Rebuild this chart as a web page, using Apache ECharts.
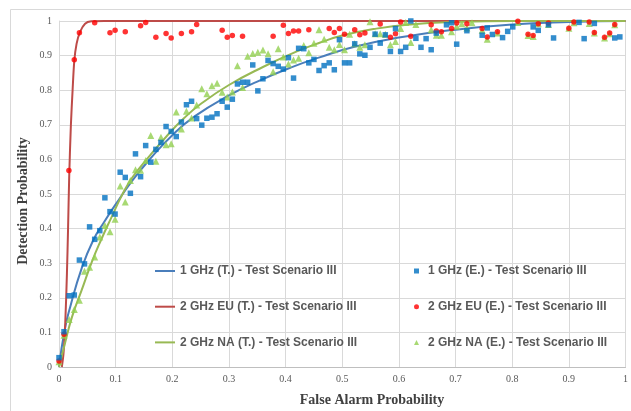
<!DOCTYPE html>
<html>
<head>
<meta charset="utf-8">
<script src="https://cdn.jsdelivr.net/npm/echarts@6/dist/echarts.min.js"></script>
<style>html,body{margin:0;padding:0;background:#fff}#c{width:631px;height:411px}</style>
</head>
<body>
<div id="c"></div>
<script>
// Theoretical curves [Pfa, Pd]
const blueT = [[0,0],[0.01,0.107],[0.02,0.175],[0.04,0.285],[0.06,0.365],[0.08,0.42],[0.1,0.47],[0.13,0.54],[0.16,0.6],[0.2,0.67],[0.24,0.725],[0.3,0.785],[0.35,0.825],[0.41,0.866],[0.46,0.895],[0.52,0.925],[0.6,0.952],[0.7,0.975],[0.8,0.99],[0.9,0.997],[1,1]];
const redT = [[0.005,0],[0.008,0.04],[0.011,0.126],[0.014,0.27],[0.016,0.4],[0.018,0.55],[0.021,0.7],[0.024,0.8],[0.027,0.885],[0.031,0.934],[0.037,0.968],[0.046,0.992],[0.057,0.999],[0.08,1],[0.5,1],[1,1]];
const greenT = [[0,0],[0.01,0.065],[0.023,0.145],[0.04,0.222],[0.058,0.304],[0.075,0.37],[0.093,0.434],[0.111,0.496],[0.13,0.549],[0.16,0.61],[0.19,0.667],[0.22,0.718],[0.25,0.76],[0.3,0.815],[0.36,0.867],[0.42,0.912],[0.46,0.937],[0.5,0.958],[0.56,0.978],[0.62,0.99],[0.7,0.997],[0.8,1],[1,1]];

// Experimental points [Pfa, Pd]
const blueE = [[0,0.027],[0.0088,0.102],[0.018,0.206],[0.027,0.208],[0.036,0.309],[0.045,0.298],[0.054,0.405],[0.063,0.369],[0.072,0.394],[0.081,0.489],[0.09,0.449],[0.099,0.442],[0.108,0.563],[0.117,0.548],[0.126,0.502],[0.135,0.616],[0.144,0.55],[0.153,0.64],[0.162,0.592],[0.171,0.629],[0.18,0.649],[0.189,0.695],[0.198,0.681],[0.207,0.666],[0.216,0.708],[0.225,0.758],[0.234,0.768],[0.243,0.718],[0.252,0.699],[0.261,0.719],[0.27,0.722],[0.279,0.732],[0.288,0.768],[0.297,0.751],[0.306,0.774],[0.315,0.818],[0.324,0.823],[0.333,0.823],[0.342,0.873],[0.351,0.798],[0.36,0.833],[0.369,0.886],[0.378,0.877],[0.387,0.869],[0.396,0.861],[0.405,0.894],[0.414,0.835],[0.423,0.921],[0.432,0.92],[0.441,0.879],[0.45,0.889],[0.459,0.857],[0.468,0.871],[0.477,0.879],[0.486,0.859],[0.495,0.946],[0.504,0.879],[0.513,0.879],[0.522,0.934],[0.531,0.905],[0.54,0.901],[0.549,0.924],[0.558,0.962],[0.567,0.936],[0.576,0.96],[0.585,0.912],[0.594,0.978],[0.603,0.912],[0.612,0.924],[0.621,1.0],[0.63,0.95],[0.639,0.924],[0.648,0.949],[0.657,0.917],[0.666,0.965],[0.684,0.989],[0.693,0.995],[0.702,0.933],[0.72,0.972],[0.747,0.959],[0.756,0.98],[0.765,0.961],[0.783,0.952],[0.792,0.97],[0.801,0.983],[0.837,0.983],[0.846,0.973],[0.864,0.989],[0.873,0.951],[0.918,0.996],[0.927,0.949],[0.945,0.993],[0.981,0.951],[0.99,0.954]];
const redE = [[0,0.017],[0.0088,0.095],[0.0175,0.568],[0.027,0.888],[0.036,0.966],[0.063,0.995],[0.09,0.966],[0.099,0.973],[0.117,0.969],[0.144,0.986],[0.153,0.996],[0.171,0.953],[0.189,0.964],[0.198,0.951],[0.216,0.964],[0.234,0.969],[0.243,0.99],[0.288,0.973],[0.297,0.953],[0.306,0.958],[0.324,0.956],[0.378,0.956],[0.396,0.988],[0.405,0.964],[0.414,0.971],[0.423,0.971],[0.441,0.975],[0.477,0.978],[0.486,0.967],[0.495,0.978],[0.504,0.962],[0.522,0.975],[0.531,0.96],[0.54,0.965],[0.567,0.991],[0.585,0.953],[0.594,0.963],[0.603,0.997],[0.621,0.956],[0.657,0.989],[0.666,0.971],[0.675,0.969],[0.693,0.978],[0.702,0.994],[0.72,0.992],[0.747,0.978],[0.756,0.954],[0.774,0.969],[0.81,0.999],[0.828,0.962],[0.837,0.958],[0.846,0.992],[0.864,0.994],[0.9,0.979],[0.909,0.997],[0.936,0.997],[0.945,0.967],[0.963,0.953],[0.972,0.965],[0.981,0.99]];
const greenE = [[0,0.015],[0.0088,0.092],[0.018,0.137],[0.027,0.166],[0.036,0.193],[0.045,0.277],[0.054,0.288],[0.063,0.318],[0.072,0.376],[0.081,0.409],[0.09,0.391],[0.099,0.427],[0.108,0.523],[0.117,0.477],[0.126,0.539],[0.135,0.57],[0.144,0.569],[0.153,0.597],[0.162,0.669],[0.171,0.595],[0.18,0.664],[0.189,0.642],[0.198,0.645],[0.207,0.737],[0.216,0.688],[0.225,0.739],[0.234,0.72],[0.243,0.757],[0.252,0.804],[0.261,0.79],[0.27,0.813],[0.279,0.82],[0.288,0.794],[0.297,0.78],[0.306,0.795],[0.315,0.871],[0.324,0.808],[0.333,0.898],[0.342,0.906],[0.351,0.91],[0.36,0.916],[0.369,0.905],[0.378,0.853],[0.387,0.92],[0.396,0.896],[0.405,0.876],[0.414,0.887],[0.423,0.892],[0.432,0.929],[0.441,0.908],[0.45,0.936],[0.459,0.975],[0.468,0.947],[0.477,0.924],[0.486,0.917],[0.495,0.932],[0.504,0.917],[0.513,0.962],[0.522,0.934],[0.531,0.924],[0.54,0.931],[0.549,0.998],[0.558,0.963],[0.567,0.963],[0.576,0.962],[0.585,0.931],[0.594,0.941],[0.603,0.978],[0.612,0.996],[0.621,0.938],[0.63,0.99],[0.657,0.975],[0.666,0.959],[0.675,0.959],[0.693,0.969],[0.702,0.985],[0.711,0.992],[0.72,0.98],[0.729,0.995],[0.747,0.973],[0.756,0.947],[0.774,0.965],[0.81,0.996],[0.828,0.958],[0.837,0.955],[0.846,0.992],[0.864,0.99],[0.9,0.979],[0.909,0.995],[0.936,0.993],[0.945,0.965],[0.963,0.951],[0.972,0.963],[0.981,0.989]];

const names = {
  bT: '1 GHz (T.) - Test Scenario III',
  rT: '2 GHz EU (T.) - Test Scenario III',
  gT: '2 GHz NA (T.) - Test Scenario III',
  bE: '1 GHz (E.) - Test Scenario III',
  rE: '2 GHz EU (E.) - Test Scenario III',
  gE: '2 GHz NA (E.) - Test Scenario III'
};
const xTitle = 'False Alarm Probability';
const yTitle = 'Detection Probability';

const chart = echarts.init(document.getElementById('c'), null, {renderer: 'canvas'});
const legendText = {fontFamily: 'Liberation Sans', fontWeight: 'bold', fontSize: 12, color: '#595959'};
const axisLabel = {fontFamily: 'Liberation Serif', fontSize: 10, color: '#595959'};
chart.setOption({
  animation: false,
  backgroundColor: '#fff',
  grid: {left: 59, right: 2, top: 21, bottom: 44},
  xAxis: {type: 'value', min: 0, max: 1, interval: 0.1,
    axisLine: {show: true, lineStyle: {color: '#bfbfbf'}}, axisTick: {show: false},
    splitLine: {show: true, lineStyle: {color: '#d9d9d9'}},
    axisLabel: Object.assign({margin: 7}, axisLabel)},
  yAxis: {type: 'value', min: 0, max: 1, interval: 0.1,
    axisLine: {show: true, lineStyle: {color: '#d9d9d9'}}, axisTick: {show: false},
    splitLine: {show: true, lineStyle: {color: '#d9d9d9'}},
    axisLabel: Object.assign({margin: 7}, axisLabel)},
  legend: [
    {orient: 'vertical', left: 155, top: 265, padding: 0, itemGap: 23.7, itemWidth: 20, itemHeight: 2,
     data: [{name: names.bT, icon: 'rect'}, {name: names.rT, icon: 'rect'}, {name: names.gT, icon: 'rect'}], textStyle: legendText},
    {orient: 'vertical', left: 414, top: 265, padding: 0, itemGap: 23.7, itemWidth: 5, itemHeight: 5,
     data: [names.bE, names.rE, names.gE], textStyle: Object.assign({padding: [0,0,0,4]}, legendText)}
  ],
  graphic: [
    {type: 'rect', silent: true, z: -10, shape: {x: 10.5, y: 9.5, width: 640, height: 420}, style: {fill: 'none', stroke: '#d9d9d9', lineWidth: 1}},
    {type: 'text', x: 23, y: 201, rotation: Math.PI / 2, style: {text: yTitle, font: 'bold 14px "Liberation Serif"', fill: '#404040', textAlign: 'center', textVerticalAlign: 'middle'}},
    {type: 'text', x: 372, y: 400, style: {text: xTitle, font: 'bold 14px "Liberation Serif"', fill: '#404040', textAlign: 'center', textVerticalAlign: 'middle'}}
  ],
  series: [
    {name: names.bT, type: 'line', data: blueT, symbol: 'none', smooth: 0.5, lineStyle: {color: '#4a7ebb', width: 2}, itemStyle: {color: '#4a7ebb'}, z: 2},
    {name: names.rT, type: 'line', data: redT, symbol: 'none', smooth: 0.3, lineStyle: {color: '#be4b48', width: 2}, itemStyle: {color: '#be4b48'}, z: 2},
    {name: names.gT, type: 'line', data: greenT, symbol: 'none', smooth: 0.5, lineStyle: {color: '#98b954', width: 2}, itemStyle: {color: '#98b954'}, z: 2},
    {name: names.gE, type: 'scatter', data: greenE, symbol: 'triangle', symbolSize: 7, itemStyle: {color: '#92d050'}, z: 3},
    {name: names.rE, type: 'scatter', data: redE, symbol: 'circle', symbolSize: 5.5, itemStyle: {color: '#ff0000'}, z: 4},
    {name: names.bE, type: 'scatter', data: blueE, symbol: 'rect', symbolSize: 5.5, itemStyle: {color: '#0070c0'}, z: 5}
  ]
});
</script>
</body>
</html>
